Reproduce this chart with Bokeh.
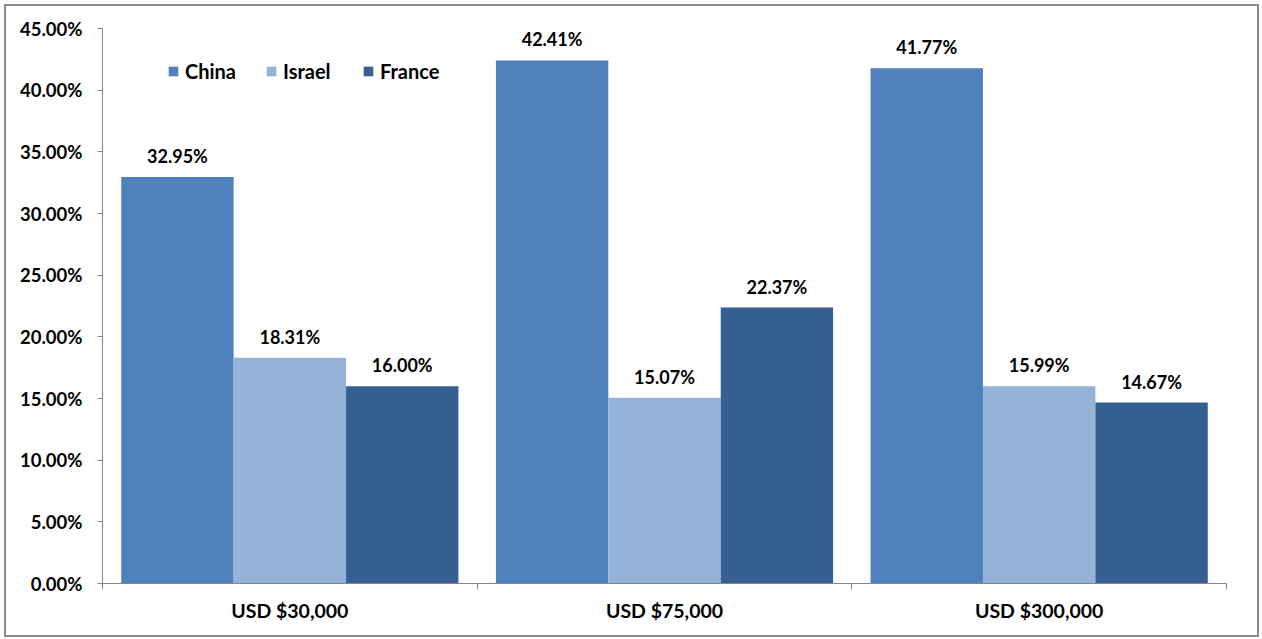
from bokeh.plotting import figure
from bokeh.models import (ColumnDataSource, FixedTicker, PrintfTickFormatter, Legend,
                          LegendItem, LabelSet, Range1d, InlineStyleSheet)
from bokeh.core.properties import value
from bokeh.embed import file_html
from bokeh.resources import INLINE

categories = ["USD $30,000", "USD $75,000", "USD $300,000"]
series = ["China", "Israel", "France"]
china = [32.95, 42.41, 41.77]
israel = [18.31, 15.07, 15.99]
france = [16.00, 22.37, 14.67]
colors = ["#4F81BD", "#95B3D7", "#376092"]
y_ticks = [0, 5, 10, 15, 20, 25, 30, 35, 40, 45]

FONT = "Lato"
n = len(categories)
bar_w = 0.3
gap = (1 - bar_w * len(series)) / 2

border_css = InlineStyleSheet(css="""
:host { position: relative; }
:host::after {
  content: ""; position: absolute; left: 4px; top: 4px; right: 3px; bottom: 2px;
  border: 2px solid #8C8C8C; pointer-events: none; z-index: 100;
}
""")

p = figure(width=1262, height=639, output_backend="svg", toolbar_location=None,
           x_range=Range1d(0, n), y_range=Range1d(0, 45),
           min_border_left=102, min_border_right=36, min_border_top=28, min_border_bottom=56,
           stylesheets=[border_css])
p.outline_line_color = None
p.xgrid.visible = False
p.ygrid.visible = False
p.background_fill_color = "white"
p.border_fill_color = "white"

renderers = []
for j, (name, vals, col) in enumerate(zip(series, [china, israel, france], colors)):
    xs = [i + gap + bar_w * (j + 0.5) for i in range(n)]
    src = ColumnDataSource(dict(x=xs, top=vals, label=[f"{v:.2f}%" for v in vals]))
    r = p.vbar(x="x", top="top", width=bar_w, bottom=0, source=src,
               fill_color=col, line_color=None)
    renderers.append(r)
    p.add_layout(LabelSet(x="x", y="top", text="label", source=src,
                          text_align="center", text_baseline="alphabetic", y_offset=14,
                          text_font=value(FONT), text_font_style="bold", text_font_size="18px",
                          text_color="black"))

# legend, one item per legend box
legend_x = [65, 163, 260]
for j, (name, r) in enumerate(zip(series, renderers)):
    lg = Legend(items=[LegendItem(label=name, renderers=[r])],
                location=(legend_x[j], 500), orientation="horizontal",
                border_line_color=None, background_fill_alpha=0,
                padding=0, margin=0, glyph_width=12, glyph_height=12,
                label_standoff=6, label_height=20,
                label_text_font=FONT, label_text_font_style="bold",
                label_text_font_size="20px", label_text_color="black")
    p.add_layout(lg, "center")

axis_col = "#868686"
# y axis
ya = p.yaxis[0]
ya.ticker = FixedTicker(ticks=y_ticks)
ya.formatter = PrintfTickFormatter(format="%.2f%%")
ya.axis_line_color = axis_col
ya.major_tick_line_color = axis_col
ya.major_tick_out = 5
ya.major_tick_in = 0
ya.minor_tick_line_color = None
ya.major_label_standoff = 15
ya.major_label_text_font = FONT
ya.major_label_text_font_style = "bold"
ya.major_label_text_font_size = "18.5px"
ya.major_label_text_color = "black"

# x axis: labels at category centres, tick marks at category boundaries
xa = p.xaxis[0]
xa.ticker = FixedTicker(ticks=[i + 0.5 for i in range(n)], minor_ticks=list(range(n + 1)))
xa.major_label_overrides = {i + 0.5: c for i, c in enumerate(categories)}
xa.axis_line_color = axis_col
xa.major_tick_line_color = None
xa.major_tick_out = 0
xa.major_tick_in = 0
xa.minor_tick_line_color = axis_col
xa.minor_tick_out = 6
xa.minor_tick_in = 0
xa.major_label_standoff = 9
xa.major_label_text_font = FONT
xa.major_label_text_font_style = "bold"
xa.major_label_text_font_size = "19.5px"
xa.major_label_text_color = "black"

open("out.html", "w").write(file_html(p, INLINE))
